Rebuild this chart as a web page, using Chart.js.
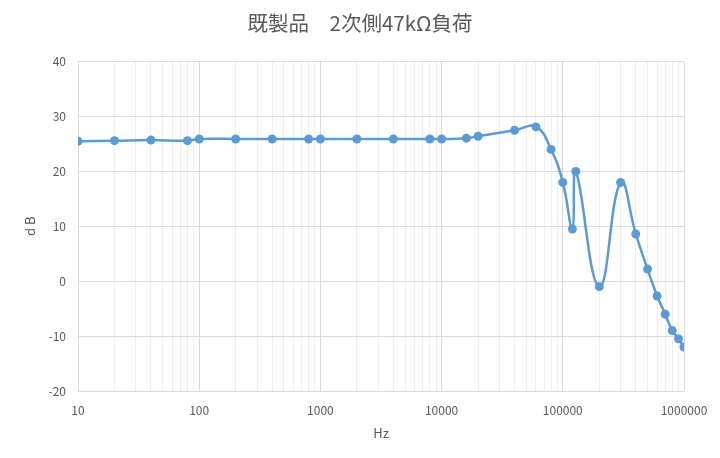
<!DOCTYPE html>
<html>
<head>
<meta charset="utf-8">
<script src="https://cdn.jsdelivr.net/npm/chart.js@4.4.1/dist/chart.umd.min.js"></script>
<style>
html,body{margin:0;padding:0;background:#fff}
#wrap{width:720px;height:458px}
</style>
</head>
<body>
<div id="wrap"><canvas id="chart" width="720" height="458"></canvas></div>
<script>
// frequency (Hz) and level (dB)
const freqs = [10,20,40,80,100,200,400,800,1000,2000,4000,8000,10000,16000,20000,40000,60000,80000,100000,120000,128000,200000,300000,400000,500000,600000,700000,800000,900000,1000000]
const levels = [25.5,25.6,25.7,25.6,25.9,25.9,25.9,25.9,25.9,25.9,25.9,25.9,25.9,26.05,26.4,27.5,28.1,24.0,18.0,9.5,20.0,-1.0,18.0,8.6,2.2,-2.7,-6.0,-9.0,-10.5,-12.0]

const xMajor = [10,100,1000,10000,100000,1000000]
const yTicks = [-20,-10,0,10,20,30,40]

const blue = "#5B9BD5"
const txt = "#595959"
const font = "'Noto Sans CJK JP','Noto Sans',sans-serif"

const points = freqs.map((f,i)=>({x:f,y:levels[i]}))

const ctx = document.getElementById("chart").getContext("2d")

new Chart(ctx,{
  type:"line",
  data:{
    datasets:[{
      data:points,
      borderColor:blue,
      backgroundColor:blue,
      borderWidth:2.5,
      pointRadius:4.5,
      pointBorderWidth:0,
      pointBackgroundColor:blue,
      tension:0.45,
      fill:false
    }]
  },
  options:{
    responsive:false,
    animation:false,
    layout:{padding:0},
    plugins:{
      legend:{display:false},
      tooltip:{enabled:false},
      title:{
        display:true,
        text:"既製品　2次側47kΩ負荷",
        color:txt,
        font:{family:font,size:20.5,weight:"normal"},
        padding:{top:11,bottom:26}
      }
    },
    scales:{
      x:{
        type:"logarithmic",
        min:10,
        max:1000000,
        afterBuildTicks:(axis)=>{
          const t=[]
          for(let d=10; d<1000000; d*=10){
            for(let k=1;k<10;k++) t.push({value:d*k})
          }
          t.push({value:1000000})
          axis.ticks=t
        },
        afterFit:(axis)=>{
          axis.height=67
          axis.paddingRight=36
        },
        ticks:{
          autoSkip:false,
          maxRotation:0,
          color:txt,
          padding:12,
          font:{family:font,size:12},
          callback:(v)=> xMajor.includes(v) ? String(v) : ""
        },
        grid:{
          drawTicks:false,
          color:(c)=> xMajor.includes(c.tick && c.tick.value) ? "#d9d9d9" : "#eeeeee",
          lineWidth:1
        },
        border:{display:false},
        title:{
          display:true,
          text:"Hz",
          color:txt,
          font:{family:font,size:13},
          padding:{top:8,bottom:17}
        }
      },
      y:{
        min:-20,
        max:40,
        afterBuildTicks:(axis)=>{
          axis.ticks=yTicks.map(v=>({value:v}))
        },
        afterFit:(axis)=>{ axis.width=78 },
        ticks:{
          color:txt,
          padding:12,
          font:{family:font,size:12}
        },
        grid:{
          drawTicks:false,
          color:"#d9d9d9"
        },
        border:{display:true,color:"#d9d9d9"},
        title:{
          display:true,
          text:"d B",
          color:txt,
          font:{family:font,size:13},
          padding:{top:22,bottom:6}
        }
      }
    }
  }
})
</script>
</body>
</html>
